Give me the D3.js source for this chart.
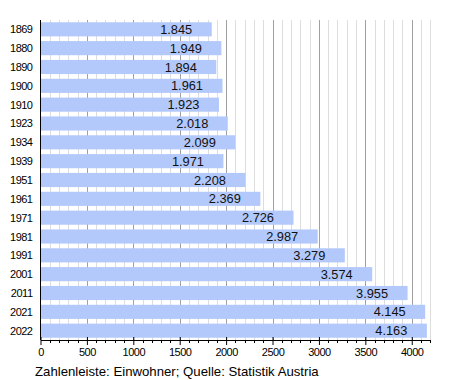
<!DOCTYPE html>
<html><head><meta charset="utf-8">
<script src="https://cdn.jsdelivr.net/npm/d3@7"></script>
<style>body{margin:0;background:#fff;} text{font-family:"Liberation Sans",Arial,sans-serif;}</style>
</head><body>
<svg id="c" width="450" height="380"></svg>
<script>
const years = ["1869","1880","1890","1900","1910","1923","1934","1939","1951","1961","1971","1981","1991","2001","2011","2021","2022"];
const population = [1845,1949,1894,1961,1923,2018,2099,1971,2208,2369,2726,2987,3279,3574,3955,4145,4163];
const xTicks = [0,500,1000,1500,2000,2500,3000,3500,4000];
const footer = "Zahlenleiste: Einwohner; Quelle: Statistik Austria";

const svg = d3.select("#c");
const mLeft = 40.5, mRight = 430.3, mTop = 20, mBottom = 340;
const x = d3.scaleLinear().domain([0,4200]).range([mLeft,mRight]);
const y = d3.scaleBand().domain(years).range([mTop,mBottom]).paddingInner(0.25).paddingOuter(0.12);

const minor = d3.range(0,4201,100);
svg.append("g").selectAll("line").data(minor.filter(v=>v%500!==0)).join("line")
  .attr("x1",d=>Math.round(x(d))+0.5).attr("x2",d=>Math.round(x(d))+0.5)
  .attr("y1",mTop).attr("y2",mBottom).attr("stroke","#dddddd").attr("stroke-width",1);
svg.append("g").selectAll("line").data(xTicks.filter(v=>v>0)).join("line")
  .attr("x1",d=>Math.round(x(d))+0.5).attr("x2",d=>Math.round(x(d))+0.5)
  .attr("y1",mTop).attr("y2",mBottom).attr("stroke","#a0a0a0").attr("stroke-width",1);

svg.append("g").selectAll("rect").data(years).join("rect")
  .attr("x",x(0)).attr("y",d=>y(d)).attr("height",y.bandwidth())
  .attr("width",(d,i)=>x(population[i])-x(0)).attr("fill","#b3c9fb");

svg.append("g").selectAll("text").data(years).join("text")
  .attr("x",(d,i)=>x(population[i])-19.5).attr("y",d=>y(d)+y.bandwidth()/2+4.6)
  .attr("text-anchor","end").attr("font-size",12.8).attr("fill","#111")
  .text((d,i)=>d3.format(",")(population[i]).replace(",","."));

svg.append("g").selectAll("text").data(years).join("text")
  .attr("x",32.5).attr("y",d=>y(d)+y.bandwidth()/2+4)
  .attr("text-anchor","end").attr("font-size",11).attr("letter-spacing","-0.5px").attr("fill","#000")
  .text(d=>d);

// axes
svg.append("line").attr("x1",mLeft).attr("x2",mLeft).attr("y1",mTop).attr("y2",mBottom).attr("stroke","#000");
const ax = d3.axisBottom(x).tickValues(xTicks).tickSize(5).tickSizeOuter(0).tickFormat(d3.format("d"));
const g = svg.append("g").attr("transform",`translate(0,${mBottom})`).call(ax);
g.select(".domain").attr("stroke","#000");
g.selectAll(".tick line").attr("y1",-3);
g.selectAll(".tick text").attr("font-size",11).attr("letter-spacing","-0.5px").attr("fill","#000")
  .attr("dy","0.9em").attr("y",6).style("font-family","'Liberation Sans',Arial,sans-serif");
svg.append("g").selectAll("line").data(minor.filter(v=>v%500!==0)).join("line")
  .attr("x1",d=>Math.round(x(d))+0.5).attr("x2",d=>Math.round(x(d))+0.5)
  .attr("y1",mBottom).attr("y2",mBottom+3).attr("stroke","#000");

svg.append("text").attr("x",35).attr("y",376).attr("font-size",13.2).attr("fill","#000").text(footer);
</script>
</body></html>
